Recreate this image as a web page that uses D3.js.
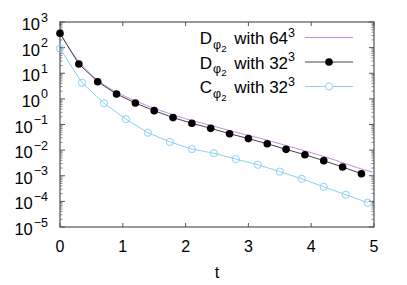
<!DOCTYPE html>
<html><head><meta charset="utf-8">
<script src="https://cdn.jsdelivr.net/npm/d3@7"></script>
<style>body{margin:0;background:#fff}svg{display:block}text{font-family:"Liberation Sans",Arial,sans-serif}</style>
</head><body><svg id="c" width="407" height="285"></svg>
<script>
const tD64 = [0,0.25,0.5,0.75,1,1.25,1.5,1.75,2,2.25,2.5,2.75,3,3.25,3.5,3.75,4,4.25,4.5,4.75,5];
const vD64 = [363,40.5,8.7,2.95,1.38,0.74,0.43,0.26,0.168,0.114,0.079,0.0535,0.038,0.0263,0.0178,0.0118,0.008,0.0052,0.00325,0.002,0.00135];
const tD32 = [0,0.3,0.6,0.9,1.2,1.5,1.8,2.1,2.4,2.7,3.0,3.3,3.6,3.9,4.2,4.5,4.8];
const vD32 = [363,22.9,4.68,1.55,0.69,0.347,0.186,0.112,0.0708,0.0437,0.0282,0.0178,0.0107,0.0066,0.00389,0.00219,0.0012];
const tC32 = [0,0.35,0.7,1.05,1.4,1.75,2.1,2.45,2.8,3.15,3.5,3.85,4.2,4.55,4.9];
const vC32 = [93,4.27,0.676,0.162,0.0479,0.0209,0.011,0.00759,0.00447,0.00269,0.00145,0.000759,0.000372,0.000182,0.0000891];
const xTicks = [0,1,2,3,4,5];
const yExps = [3,2,1,0,-1,-2,-3,-4,-5];
const legendLabels = [["D","64"],["D","32"],["C","32"]];

const svg = d3.select("#c");
const L=60,R=374,T=22,B=227;
const x = d3.scaleLinear().domain([0,5]).range([L,R]);
const y = d3.scaleLog().domain([1e-5,1e3]).range([B,T]);
const frame="#555";

// ticks (inward, mirrored)
const g = svg.append("g").attr("stroke",frame).attr("stroke-width",1);
xTicks.forEach(t=>{
  g.append("line").attr("x1",x(t)).attr("x2",x(t)).attr("y1",B).attr("y2",B-4);
  g.append("line").attr("x1",x(t)).attr("x2",x(t)).attr("y1",T).attr("y2",T+4);
});
yExps.forEach(e=>{
  const yy=y(Math.pow(10,e));
  g.append("line").attr("x1",L).attr("x2",L+5).attr("y1",yy).attr("y2",yy);
  g.append("line").attr("x1",R).attr("x2",R-5).attr("y1",yy).attr("y2",yy);
  if(e>-5){for(let m=2;m<=9;m++){const ym=y(m*Math.pow(10,e-1));
    g.append("line").attr("x1",L).attr("x2",L+2.5).attr("y1",ym).attr("y2",ym).attr("stroke-width",0.7);
    g.append("line").attr("x1",R).attr("x2",R-2.5).attr("y1",ym).attr("y2",ym).attr("stroke-width",0.7);}}
});
svg.append("rect").attr("x",L).attr("y",T).attr("width",R-L).attr("height",B-T)
  .attr("fill","none").attr("stroke",frame).attr("stroke-width",1.2);

// tick labels
xTicks.forEach(t=>{
  svg.append("text").attr("x",x(t)).attr("y",251.5).attr("text-anchor","middle")
    .attr("font-size",16).text(t);
});
yExps.forEach(e=>{
  const yy=y(Math.pow(10,e));
  const tx=svg.append("text").attr("x",48).attr("y",yy+8).attr("text-anchor","end").attr("font-size",16.5);
  tx.append("tspan").text("10");
  tx.append("tspan").attr("dy",-8.5).attr("dx",1).attr("font-size",12.5).text(e<0?"\u2212"+(-e):String(e));
});
svg.append("text").attr("x",(L+R)/2).attr("y",278).attr("text-anchor","middle").attr("font-size",16.5).text("t");

// series
const line = d3.line().x(d=>x(d[0])).y(d=>y(d[1]));
const dD64 = tD64.map((t,i)=>[t,vD64[i]]);
const dD32 = tD32.map((t,i)=>[t,vD32[i]]);
const dC32 = tC32.map((t,i)=>[t,vC32[i]]);
const cPur="#c58be6", cBlk="#444", cBlue="#8dd0f2";
svg.append("path").attr("d",line.curve(d3.curveMonotoneX)(dD64)).attr("fill","none").attr("stroke",cPur).attr("stroke-width",1);
svg.append("path").attr("d",d3.line().x(d=>x(d[0])).y(d=>y(d[1]))(dD32)).attr("fill","none").attr("stroke",cBlk).attr("stroke-width",1);
svg.append("path").attr("d",d3.line().x(d=>x(d[0])).y(d=>y(d[1]))(dC32)).attr("fill","none").attr("stroke",cBlue).attr("stroke-width",1);
svg.selectAll("circle.d32").data(dD32).join("circle").attr("class","d32")
  .attr("cx",d=>x(d[0])).attr("cy",d=>y(d[1])).attr("r",3.8).attr("fill","#000");
svg.selectAll("circle.c32").data(dC32).join("circle").attr("class","c32")
  .attr("cx",d=>x(d[0])).attr("cy",d=>y(d[1])).attr("r",3.6).attr("fill","none").attr("stroke",cBlue).attr("stroke-width",1);

// legend
const rowsY=[37.5,62,86.5];
const styles=[{c:cPur,m:null},{c:cBlk,m:"fill"},{c:cBlue,m:"open"}];
legendLabels.forEach((lab,i)=>{
  const ly=rowsY[i];
  const tx=svg.append("text").attr("x",295).attr("y",ly+6.5).attr("text-anchor","end").attr("font-size",17);
  tx.append("tspan").text(lab[0]);
  tx.append("tspan").attr("dy",4.5).attr("dx",1).attr("font-size",12.5).text("\u03c6");
  tx.append("tspan").attr("dy",3).attr("font-size",9.5).text("2");
  tx.append("tspan").attr("dy",-7.5).attr("dx",3).text(" with "+lab[1]);
  tx.append("tspan").attr("dy",-7.5).attr("font-size",12.5).text("3");
  svg.append("line").attr("x1",305).attr("x2",353).attr("y1",ly).attr("y2",ly).attr("stroke",styles[i].c).attr("stroke-width",1);
  if(styles[i].m==="fill") svg.append("circle").attr("cx",329).attr("cy",ly).attr("r",3.8).attr("fill","#000");
  if(styles[i].m==="open") svg.append("circle").attr("cx",329).attr("cy",ly).attr("r",3.6).attr("fill","#fff").attr("stroke",cBlue);
});
</script></body></html>
